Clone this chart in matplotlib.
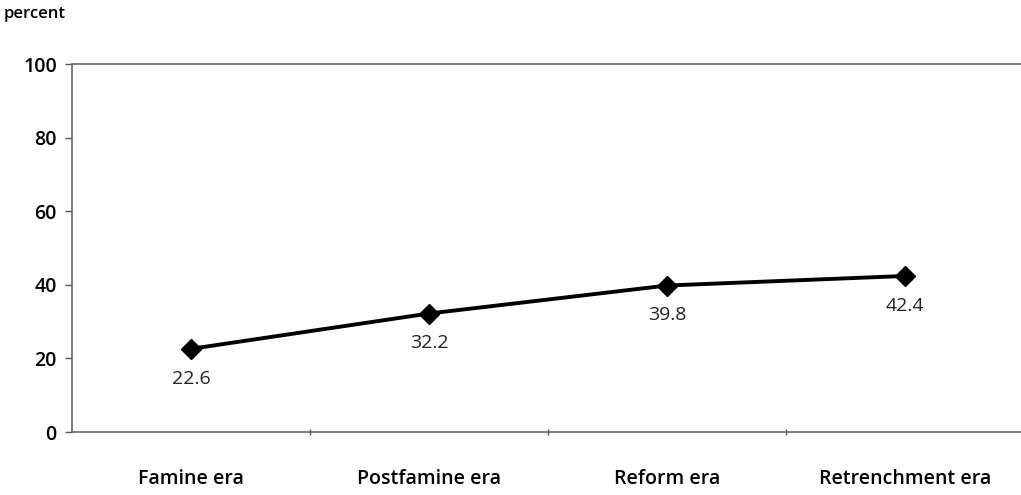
import matplotlib.pyplot as plt
import numpy as np

# data
eras = ["Famine era", "Postfamine era", "Reform era", "Retrenchment era"]
percent = [22.6, 32.2, 39.8, 42.4]
y_ticks = [0, 20, 40, 60, 80, 100]

plt.rcParams['font.family'] = ['Open Sans', 'DejaVu Sans']

fig = plt.figure(figsize=(10.21, 4.95), dpi=100)
W, H = 1021, 495
left, right, top, bottom = 72, 1024, 64, 432
ax = fig.add_axes([left / W, (H - bottom) / H, (right - left) / W, (bottom - top) / H])

x = np.arange(len(eras))
ax.plot(x, percent, color='black', lw=2.8, marker='D', markersize=10, zorder=3)

for xi, v in zip(x, percent):
    ax.annotate(f"{v}", (xi, v), xytext=(0, -15), textcoords='offset points',
                ha='center', va='top', fontsize=14, color='#222222')

ax.set_xlim(-0.5, len(eras) - 0.5)
ax.set_ylim(0, 100)
ax.set_yticks(y_ticks)
ax.set_yticklabels([str(t) for t in y_ticks], fontsize=14, fontweight='semibold')

# category labels at centres, tick marks between categories
ax.set_xticks(x)
ax.set_xticklabels(eras, fontsize=14, fontweight='semibold')
ax.tick_params(axis='x', which='major', length=0, pad=27)
ax.set_xticks(np.arange(0.5, len(eras) - 0.5, 1.0), minor=True)
ax.tick_params(axis='x', which='minor', length=5, direction='inout', color='#555555', width=1)
ax.tick_params(axis='y', length=5, color='#555555', width=1, pad=6)

ax.spines['right'].set_visible(False)
for side in ['left', 'top', 'bottom']:
    ax.spines[side].set_color('#666666')
    ax.spines[side].set_linewidth(1.2)

fig.text(4 / W, 1 - 14 / H, "percent", fontsize=12, fontweight='semibold', va='center')

fig.savefig("out.png", dpi=100)
